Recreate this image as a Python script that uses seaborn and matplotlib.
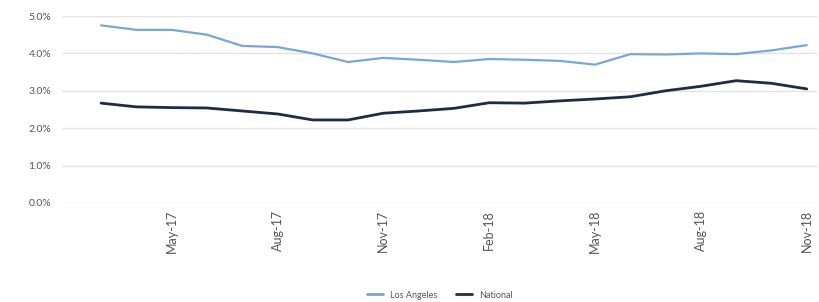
import numpy as np
import pandas as pd
import matplotlib
matplotlib.use("Agg")
import matplotlib.pyplot as plt
import seaborn as sns
from matplotlib.ticker import FuncFormatter

# 月度数据 Mar-17 ... Nov-18
months = ["Mar-17", "Apr-17", "May-17", "Jun-17", "Jul-17", "Aug-17", "Sep-17",
          "Oct-17", "Nov-17", "Dec-17", "Jan-18", "Feb-18", "Mar-18", "Apr-18",
          "May-18", "Jun-18", "Jul-18", "Aug-18", "Sep-18", "Oct-18", "Nov-18"]
los_angeles = [4.75, 4.63, 4.63, 4.50, 4.20, 4.17, 4.00, 3.77, 3.88, 3.83, 3.77,
               3.85, 3.83, 3.80, 3.70, 3.98, 3.97, 4.00, 3.98, 4.08, 4.22]
national = [2.67, 2.57, 2.55, 2.54, 2.46, 2.38, 2.22, 2.22, 2.40, 2.46, 2.53,
            2.68, 2.67, 2.73, 2.78, 2.84, 3.00, 3.12, 3.27, 3.20, 3.05]
tick_months = ["May-17", "Aug-17", "Nov-17", "Feb-18", "May-18", "Aug-18", "Nov-18"]

df = pd.DataFrame({
    "idx": list(range(len(months))) * 2,
    "value": los_angeles + national,
    "series": ["Los Angeles"] * len(months) + ["National"] * len(months),
})

sns.set_theme(style="white")
plt.rcParams['font.family'] = ['Lato', 'DejaVu Sans']

fig = plt.figure(figsize=(8.19, 3.02), dpi=100)
ax = fig.add_axes([0.076, 0.328, 0.922, 0.619])

sns.lineplot(data=df, x="idx", y="value", hue="series",
             palette={"Los Angeles": "#7aa6d6", "National": "#1d2b45"},
             linewidth=2, ax=ax, legend=True)
for line, lw in zip(ax.lines, [1.6, 2.0]):
    line.set_linewidth(lw)

ax.set_ylim(0, 5)
ax.set_xlim(-1.1, 20.3)
ax.set_yticks(np.arange(0, 5.1, 1))
ax.yaxis.set_major_formatter(FuncFormatter(lambda v, _: f"{v:.1f}%"))
ax.set_xticks([months.index(m) for m in tick_months])
ax.set_xticklabels(tick_months, rotation=90)
ax.tick_params(axis="y", labelsize=7.5, colors="#555555", length=0, pad=8)
ax.tick_params(axis="x", labelsize=9, colors="#555555", length=0, pad=5)
ax.set_xlabel("")
ax.set_ylabel("")
ax.grid(axis="y", color="#e3e3e3", linewidth=1)
for s in ax.spines.values():
    s.set_visible(False)

handles, labels = ax.get_legend_handles_labels()
ax.legend(handles, labels, loc="lower center", bbox_to_anchor=(0.5, -0.56),
          ncol=2, frameon=False, fontsize=6.5, labelcolor="#555555",
          handlelength=1.8, columnspacing=2.0)

fig.savefig("out.png", dpi=100)
